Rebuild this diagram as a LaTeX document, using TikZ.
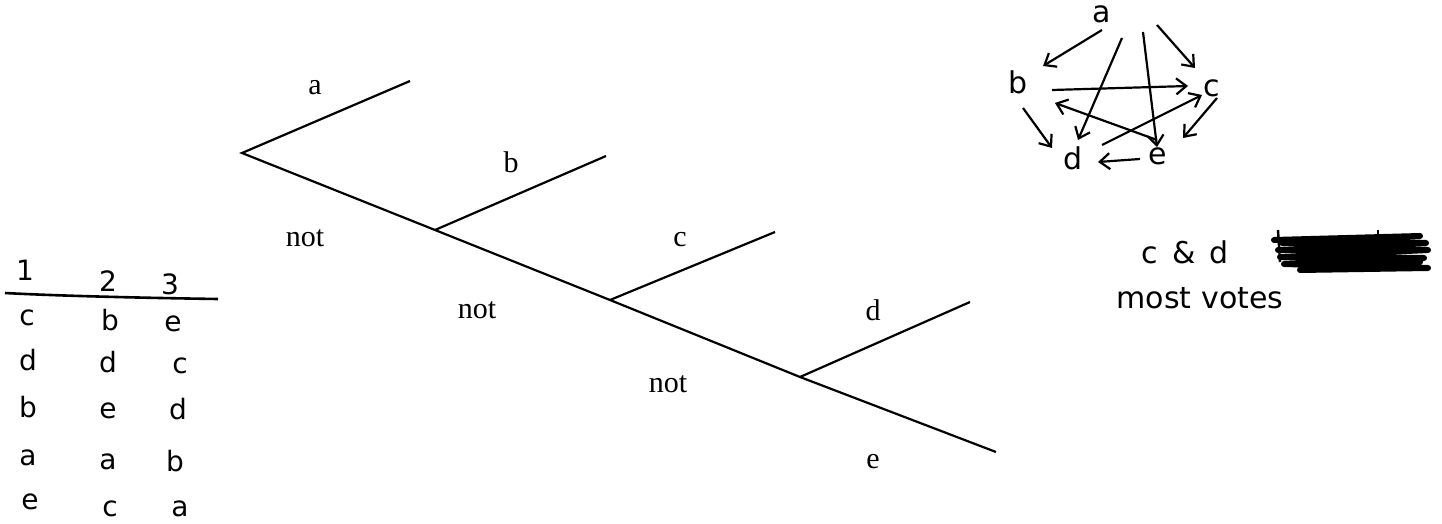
\documentclass[tikz,border=0pt]{standalone}
\usepackage{fontspec}
\setmainfont{Liberation Serif}
\newfontfamily\hand{DejaVu Sans}
\usetikzlibrary{arrows.meta}
\begin{document}
\begin{tikzpicture}[x=0.5pt,y=-0.5pt,
  branch/.style={line width=1.1pt},
  lbl/.style={font=\fontsize{15}{17}\selectfont, inner sep=0},
  hw/.style={font=\hand\fontsize{14}{16}\selectfont, inner sep=0},
  note/.style={font=\hand\fontsize{15}{17}\selectfont, inner sep=0},
  gn/.style={font=\hand\fontsize{15}{17}\selectfont, inner sep=0},
  garr/.style={line width=1.1pt, -{Straight Barb[length=5pt,width=8pt]}},
  scrib/.style={line width=3pt, line join=round, line cap=round}]
\useasboundingbox (0,0) rectangle (1442,524);

% ---------- decision tree ----------
\coordinate (r)  at (242,153);
\coordinate (ea) at (410,81);
\coordinate (j1) at (435,230);
\coordinate (eb) at (606,156);
\coordinate (j2) at (610,300);
\coordinate (ec) at (775,232);
\coordinate (j3) at (800,377);
\coordinate (ed) at (970,302);
\coordinate (ee) at (996,452);
\draw[branch] (ea) -- (r) -- (j1) -- (j2) -- (j3) -- (ee);
\draw[branch] (j1) -- (eb);
\draw[branch] (j2) -- (ec);
\draw[branch] (j3) -- (ed);

\node[lbl] (la) at (315,88) {a};
\node[lbl] (lb) at (511,162) {b};
\node[lbl] (lc) at (680,240) {c};
\node[lbl] (ld) at (873,310) {d};
\node[lbl] (le) at (873,462) {e};
\node[lbl] (n1) at (305,238) {not};
\node[lbl] (n2) at (477,310) {not};
\node[lbl] (n3) at (668,384) {not};

% ---------- ranking table ----------
\node[hw] (h1) at (25,270) {1};
\node[hw] (h2) at (108,281) {2};
\node[hw] (h3) at (170,284) {3};
\coordinate (tl1) at (5,293);
\coordinate (tl2) at (218,299);
\draw[line width=1.3pt] (tl1) .. controls (60,296) and (150,298) .. (tl2);

\node[hw] (t11) at (27,318) {c};
\node[hw] (t12) at (110,320) {b};
\node[hw] (t13) at (173,324) {e};
\node[hw] (t21) at (28,360) {d};
\node[hw] (t22) at (108,362) {d};
\node[hw] (t23) at (180,366) {c};
\node[hw] (t31) at (28,407) {b};
\node[hw] (t32) at (108,411) {e};
\node[hw] (t33) at (178,409) {d};
\node[hw] (t41) at (28,458) {a};
\node[hw] (t42) at (108,462) {a};
\node[hw] (t43) at (175,461) {b};
\node[hw] (t51) at (30,502) {e};
\node[hw] (t52) at (110,509) {c};
\node[hw] (t53) at (180,509) {a};

% ---------- preference graph ----------
\node[gn] (ga) at (1102,14) {a};
\node[gn] (gb) at (1018,82) {b};
\node[gn] (gc) at (1212,88) {c};
\node[gn] (gd) at (1073,158) {d};
\node[gn] (ge) at (1158,156) {e};

\draw[garr] ([shift={(0,16)}]ga.center) -- ([shift={(25,-16)}]gb.center);
\draw[garr] ([shift={(55,11)}]ga.center) -- ([shift={(-17,-20)}]gc.center);
\draw[garr] ([shift={(20,24)}]ga.center) -- ([shift={(5,-18)}]gd.center);
\draw[garr] ([shift={(41,18)}]ga.center) -- ([shift={(-1,-9)}]ge.center);
\draw[garr] ([shift={(34,8)}]gb.center) -- ([shift={(-24,-2)}]gc.center);
\draw[garr] ([shift={(-1,-16)}]ge.center) -- ([shift={(37,21)}]gb.center);
\draw[garr] ([shift={(29,-13)}]gd.center) -- ([shift={(-10,7)}]gc.center);
\draw[garr] ([shift={(5,26)}]gb.center) -- ([shift={(-21,-10)}]gd.center);
\draw[garr] ([shift={(5,10)}]gc.center) -- ([shift={(25,-18)}]ge.center);
\draw[garr] ([shift={(-18,3)}]ge.center) -- ([shift={(25,4)}]gd.center);

% ---------- note ----------
\node[note] (cd) at (1185,252) {c\hspace{7pt}\&\hspace{7pt}d};
\node[note] (mv) at (1200,298) {most votes};
\coordinate (s0) at (1274,240);
\draw[scrib] (s0) -- (1420,236) -- (1282,243) -- (1426,243) -- (1278,250)
  -- (1428,250) -- (1280,257) -- (1424,258) -- (1284,264) -- (1428,268)
  -- (1300,270) -- (1420,262);
\draw[line width=1.2pt] (1278,230) -- (1280,262);
\draw[line width=1.2pt] (1378,230) -- (1378,240);
\end{tikzpicture}
\end{document}
